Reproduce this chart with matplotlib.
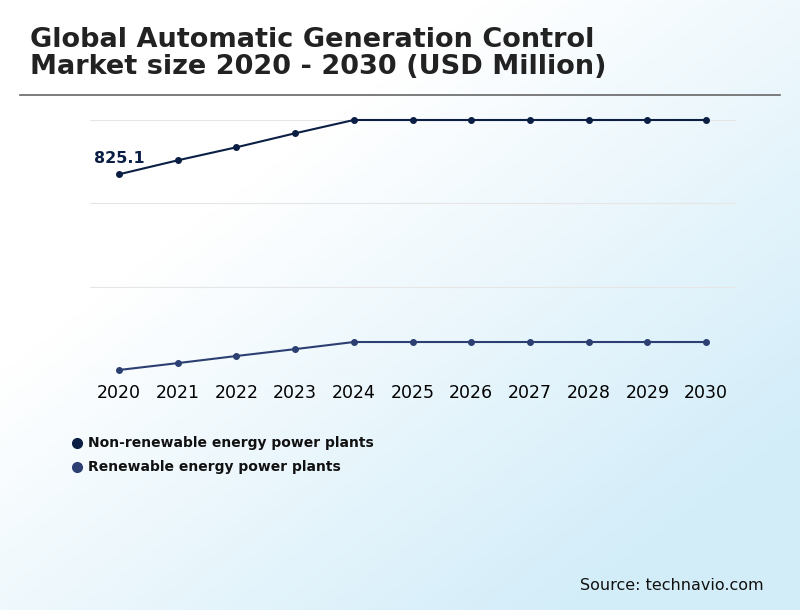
import matplotlib
matplotlib.use("Agg")
import matplotlib.pyplot as plt
import numpy as np

years = [2020, 2021, 2022, 2023, 2024, 2025, 2026, 2027, 2028, 2029, 2030]
non_renewable = [825.1, 884, 939, 998, 1054, 1054, 1054, 1054, 1054, 1054, 1054]
renewable = [0, 29, 59, 88, 118, 118, 118, 118, 118, 118, 118]
series_names = ["Non-renewable energy power plants", "Renewable energy power plants"]
colors = ["#0b1f45", "#2c3f72"]

fig = plt.figure(figsize=(8, 6.1), dpi=100)
bg = fig.add_axes([0, 0, 1, 1], zorder=-10)
xx, yy = np.meshgrid(np.linspace(0, 1, 200), np.linspace(0, 1, 200))
t = np.clip((xx * 0.9 + yy * 0.9) - 0.55, 0, 1) / 1.25
c0 = np.array([1, 1, 1]); c1 = np.array([0.78, 0.91, 0.97])
img = c0[None, None, :] * (1 - t[..., None]) + c1[None, None, :] * t[..., None]
bg.imshow(img, extent=[0, 1, 0, 1], aspect="auto", origin="upper")
bg.axis("off")

fig.text(0.038, 0.955, "Global Automatic Generation Control\nMarket size 2020 - 2030 (USD Million)",
         fontsize=19.5, fontweight="bold", color="#222222", va="top", linespacing=1.05)
fig.add_artist(plt.Line2D([0.025, 0.975], [0.844, 0.844], color="#666666", lw=1.2))

ax = fig.add_axes([0.1125, 1 - 370 / 610, 0.8075, 250 / 610])
ax.patch.set_alpha(0)
for s, c in zip([non_renewable, renewable], colors):
    ax.plot(years, s, color=c, lw=1.5, marker="o", ms=4, clip_on=False)
ax.set_xlim(2019.506, 2030.51)
ax.set_ylim(0, 1054)
ax.set_yticks([0, 351.3, 702.7, 1054])
ax.yaxis.grid(True, color="#e6e6e6", lw=0.8)
ax.set_yticklabels([])
ax.tick_params(axis="y", length=0)
ax.tick_params(axis="x", length=0, labelsize=12.5, pad=10)
ax.set_xticks(years)
for sp in ax.spines.values():
    sp.set_visible(False)
ax.annotate("825.1", (2020, 825.1), xytext=(0, 6), textcoords="offset points",
            ha="center", va="bottom", fontsize=11.5, fontweight="bold", color="#0b1f45")

for i, (n, c) in enumerate(zip(series_names, colors)):
    y = 1 - (443 + i * 24) / 610
    fig.add_artist(plt.Line2D([0.096], [y], marker="o", ms=7, color=c, lw=0))
    fig.text(0.11, y, n, fontsize=10, fontweight="bold", va="center", color="#111111")

fig.text(0.954, 0.033, "Source: technavio.com", ha="right", fontsize=11.5, color="#111111")
fig.savefig("out.png", dpi=100)
